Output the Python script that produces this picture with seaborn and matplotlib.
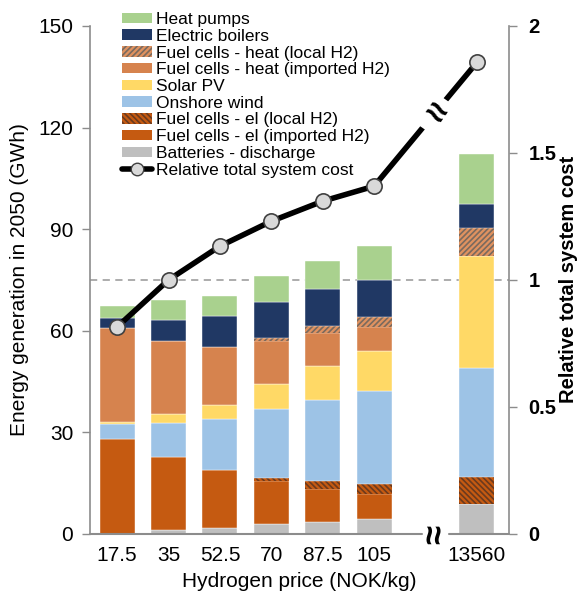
import numpy as np
import pandas as pd
import seaborn as sns
import matplotlib
matplotlib.use('Agg')
import matplotlib.pyplot as plt
from matplotlib.patches import Patch
from matplotlib.lines import Line2D

# data (GWh)
prices = ['17.5', '35', '52.5', '70', '87.5', '105', '13560']
xpos = [0, 1, 2, 3, 4, 5, 7]  # gap before the last scenario (axis break)

batteries = [0.0, 1.1, 1.9, 2.9, 3.5, 4.3, 8.9]
fc_el_imported = [28.1, 21.6, 16.9, 12.8, 9.9, 7.5, 0.0]
fc_el_local = [0.0, 0.0, 0.0, 0.8, 2.2, 3.0, 7.9]
onshore_wind = [4.3, 10.1, 15.0, 20.5, 23.9, 27.4, 32.2]
solar_pv = [0.6, 2.5, 4.3, 7.3, 10.0, 11.7, 33.1]
fc_heat_imported = [27.9, 21.7, 17.0, 12.7, 9.8, 7.2, 0.0]
fc_heat_local = [0.0, 0.0, 0.0, 0.9, 2.2, 3.1, 8.2]
electric_boilers = [2.8, 6.3, 9.2, 10.5, 10.7, 10.8, 7.2]
heat_pumps = [3.6, 5.8, 6.0, 7.8, 8.5, 10.0, 14.8]

rel_cost = [0.815, 1.0, 1.133, 1.231, 1.31, 1.369, 1.856]

# stacking order bottom -> top: (label, values, face, hatch, hatch colour)
layers = [
    ('Batteries - discharge', batteries, '#bfbfbf', None, None),
    ('Fuel cells - el (imported H2)', fc_el_imported, '#c55a11', None, None),
    ('Fuel cells - el (local H2)', fc_el_local, '#c55a11', '\\\\\\\\\\\\', '#6b3a1e'),
    ('Onshore wind', onshore_wind, '#9dc3e6', None, None),
    ('Solar PV', solar_pv, '#ffd966', None, None),
    ('Fuel cells - heat (imported H2)', fc_heat_imported, '#d6834e', None, None),
    ('Fuel cells - heat (local H2)', fc_heat_local, '#e09260', '//////', '#7a6a5e'),
    ('Electric boilers', electric_boilers, '#203864', None, None),
    ('Heat pumps', heat_pumps, '#a9d18e', None, None),
]

sns.set_theme(style='white')
plt.rcParams['font.family'] = ['Liberation Sans', 'DejaVu Sans']
plt.rcParams['hatch.linewidth'] = 1.2
plt.rcParams['text.color'] = 'black'
plt.rcParams['axes.labelcolor'] = 'black'

grey = '#8c8c8c'
fig = plt.figure(figsize=(5.8, 6.02), dpi=100)
ax = fig.add_axes([0.155, 0.113, 0.723, 0.844])

bottom = np.zeros(len(xpos))
handles = {}
for label, vals, col, hatch, hcol in layers:
    vals = np.array(vals)
    if hatch:
        ax.bar(xpos, vals, 0.68, bottom=bottom, color=col, edgecolor=hcol,
               hatch=hatch, linewidth=0, zorder=2)
        handles[label] = Patch(facecolor=col, edgecolor=hcol, hatch=hatch, linewidth=0)
    else:
        ax.bar(xpos, vals, 0.68, bottom=bottom, color=col, edgecolor='white',
               linewidth=0.3, zorder=2)
        handles[label] = Patch(facecolor=col, linewidth=0)
    bottom += vals

# reference line at relative cost 1 (= 75 GWh)
ax.axhline(75, color='#a6a6a6', ls=(0, (4, 3)), lw=1.3, zorder=1)

ax.set_xlim(-0.53, 7.63)
ax.set_ylim(0, 150)
ax.set_yticks([0, 30, 60, 90, 120, 150])
ax.set_xticks(xpos)
ax.set_xticklabels(prices)
ax.tick_params(axis='y', direction='out', length=6, width=1, color=grey,
               labelsize=15, labelcolor='black', left=True, pad=6)
ax.tick_params(axis='x', length=0, labelsize=15, labelcolor='black', pad=9)
ax.set_ylabel('Energy generation in 2050 (GWh)', fontsize=15, labelpad=7)
ax.set_xlabel('Hydrogen price (NOK/kg)', fontsize=15, labelpad=5)

for s in ['top', 'right', 'bottom']:
    ax.spines[s].set_visible(False)
ax.spines['left'].set_color(grey)
ax.spines['left'].set_linewidth(1.2)

# broken bottom axis
ax.axhline(0, xmin=0, xmax=0.792, color=grey, lw=1.5, clip_on=False, zorder=3)
ax.axhline(0, xmin=0.857, xmax=1, color=grey, lw=1.5, clip_on=False, zorder=3)
ax.text(0.825, 0, '≈', rotation=90, transform=ax.transAxes, ha='center',
        va='center', fontsize=25, fontweight='bold', color='black', clip_on=False)

# relative total system cost on the right axis
ax2 = ax.twinx()
cost_df = pd.DataFrame({'x': xpos, 'cost': rel_cost})
sns.lineplot(data=cost_df, x='x', y='cost', ax=ax2, color='black', lw=4,
             marker='o', markersize=11, markerfacecolor='#d9d9d9',
             markeredgecolor='#404040', markeredgewidth=1.2, zorder=5)
ax2.set_ylim(0, 2)
ax2.set_yticks([0, 0.5, 1, 1.5, 2])
ax2.set_yticklabels(['0', '0.5', '1', '1.5', '2'], fontweight='bold')
ax2.tick_params(axis='y', direction='out', length=6, width=1, color=grey,
                labelsize=14.5, labelcolor='black', right=True, pad=8)
ax2.set_ylabel('Relative total system cost', fontsize=14.5, fontweight='bold',
               labelpad=2)
ax2.set_xlabel('')
for s in ['top', 'left', 'bottom']:
    ax2.spines[s].set_visible(False)
ax2.spines['right'].set_color(grey)
ax2.spines['right'].set_linewidth(1.2)

# break mark on the cost line, placed part way along the last segment
t = 0.585
bx = xpos[5] + t * (xpos[6] - xpos[5])
by = rel_cost[5] + t * (rel_cost[6] - rel_cost[5])
ax2.text(bx, by, '≈', rotation=-35, ha='center', va='center', fontsize=26,
         fontweight='bold', zorder=6,
         bbox=dict(boxstyle='square,pad=0.02', facecolor='white', edgecolor='none'))

# legend, top row first
order = ['Heat pumps', 'Electric boilers', 'Fuel cells - heat (local H2)',
         'Fuel cells - heat (imported H2)', 'Solar PV', 'Onshore wind',
         'Fuel cells - el (local H2)', 'Fuel cells - el (imported H2)',
         'Batteries - discharge']
leg_handles = [handles[k] for k in order]
leg_handles.append(Line2D([], [], color='black', lw=4, marker='o', markersize=9,
                          markerfacecolor='#d9d9d9', markeredgecolor='#404040'))
leg_labels = order + ['Relative total system cost']
ax2.legend(leg_handles, leg_labels, loc='upper left',
           bbox_to_anchor=(0.21, 0.98), bbox_transform=fig.transFigure,
           frameon=False, fontsize=12.5, handlelength=1.75, handleheight=0.55,
           handletextpad=0.2, labelspacing=0.1, borderpad=0, borderaxespad=0)

fig.savefig('out.png', dpi=100)
